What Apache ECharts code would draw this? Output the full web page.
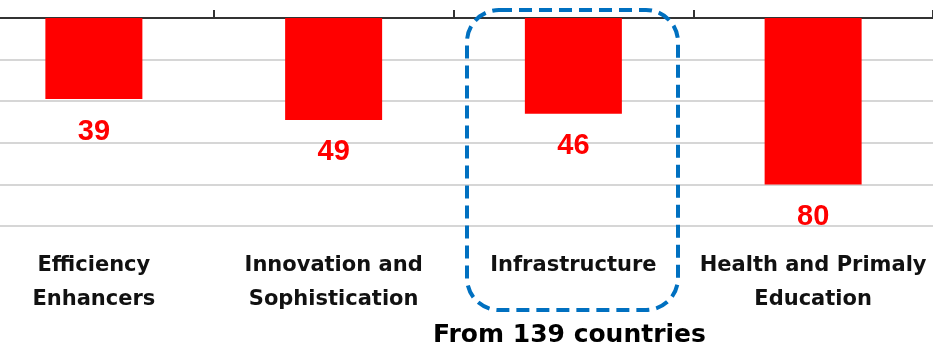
<!DOCTYPE html>
<html>
<head>
<meta charset="utf-8">
<script src="https://cdn.jsdelivr.net/npm/echarts@6/dist/echarts.min.js"></script>
<style>
html,body{margin:0;padding:0;background:#fff;overflow:hidden;width:933px;height:361px;position:relative;}
#chart{position:absolute;left:-26px;top:0;width:959px;height:361px;}
</style>
</head>
<body>
<div id="chart"></div>
<script>
const categories = ['Efficiency\nEnhancers', 'Innovation and\nSophistication', 'Infrastructure', 'Health and Primaly\nEducation'];
const values = [39, 49, 46, 80];
const yTicks = [0, 20, 40, 60, 80, 100];
const footnote = 'From 139 countries';

const OFF = 26; // container shifted left by this many px
const chart = echarts.init(document.getElementById('chart'), null, {renderer: 'canvas'});
chart.setOption({
  animation: false,
  backgroundColor: '#ffffff',
  grid: {left: 0, right: 0, top: 18, bottom: 135, containLabel: false},
  xAxis: [{
    type: 'category',
    data: categories,
    position: 'top',
    axisLine: {show: true, lineStyle: {color: '#333333', width: 2}},
    axisTick: {show: true, length: 8, lineStyle: {color: '#333333', width: 2}},
    axisLabel: {show: false}
  }, {
    type: 'category',
    data: categories,
    position: 'bottom',
    axisLine: {show: false},
    axisTick: {show: false},
    axisLabel: {
      show: true, margin: 23, interval: 0,
      fontFamily: 'DejaVu Sans', fontWeight: 'bold', fontSize: 21,
      lineHeight: 34, color: '#111111'
    }
  }],
  yAxis: {
    type: 'value',
    inverse: true,
    min: yTicks[0],
    max: yTicks[yTicks.length - 1],
    interval: yTicks[1] - yTicks[0],
    axisLine: {show: false},
    axisTick: {show: false},
    axisLabel: {show: false},
    splitLine: {show: true, lineStyle: {color: '#c8c8c8', width: 1.5}}
  },
  series: [{
    type: 'bar',
    data: values,
    xAxisIndex: 0,
    barWidth: 97,
    itemStyle: {color: '#ff0000'},
    label: {
      show: true,
      position: 'bottom',
      distance: 18,
      color: '#ff0000',
      fontFamily: 'Liberation Sans',
      fontWeight: 'bold',
      fontSize: 29
    }
  }],
  graphic: [{
    type: 'rect',
    shape: {x: 467 + OFF, y: 10, width: 211, height: 300, r: 32},
    style: {fill: 'none', stroke: '#0070c0', lineWidth: 4, lineDash: [13, 7]},
    z: 100
  }, {
    type: 'text',
    left: 433 + OFF,
    top: 323,
    style: {
      text: footnote,
      fill: '#000000',
      font: 'bold 25px "DejaVu Sans"'
    }
  }]
});
</script>
</body>
</html>
